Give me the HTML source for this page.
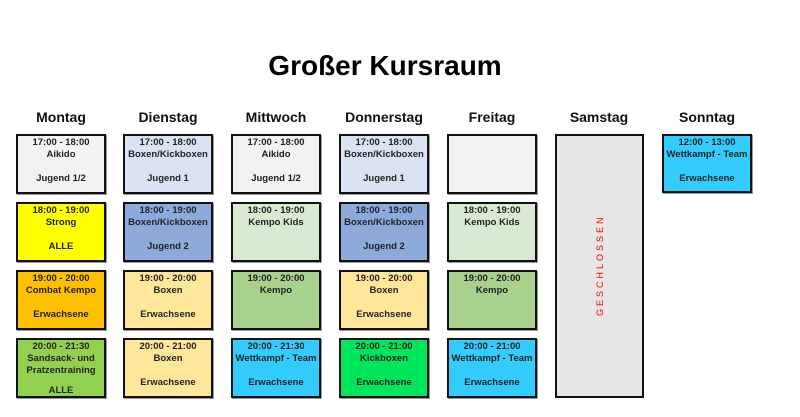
<!DOCTYPE html>
<html><head><meta charset="utf-8"><style>
body{margin:0;width:800px;height:417px;background:#fff;position:relative;font-family:"Liberation Sans",Arial,sans-serif;overflow:hidden}
.t{position:absolute;left:0;width:770px;top:50px;text-align:center;font-size:28px;font-weight:bold;color:#000}
.h{position:absolute;top:109px;width:90px;text-align:center;font-size:14px;font-weight:bold;color:#111}
.b{position:absolute;width:86px;height:55px;border:2px solid #111;box-shadow:1px 1px 0 #999;font-size:9.5px;font-weight:bold;color:#222;text-align:center;line-height:12px;padding-top:1px;box-sizing:content-box}
.b div{height:12px}
.g{position:absolute;left:555px;top:134px;width:85px;height:260px;border:2px solid #111;background:#e6e6e6}
.v{position:absolute;left:590px;top:215px;width:20px;height:100px;color:#f00;font-size:9px;letter-spacing:3px;writing-mode:vertical-rl;transform:rotate(180deg);text-align:center;display:flex;align-items:center;justify-content:center}
</style></head><body>
<div class="t">Großer Kursraum</div>
<div class="h" style="left:16px">Montag</div>
<div class="h" style="left:123px">Dienstag</div>
<div class="h" style="left:231px">Mittwoch</div>
<div class="h" style="left:339px">Donnerstag</div>
<div class="h" style="left:447px">Freitag</div>
<div class="h" style="left:554px">Samstag</div>
<div class="h" style="left:662px">Sonntag</div>

<div class="b" style="left:16px;top:134px;background:#f2f2f2"><div>17:00 - 18:00</div><div>Aikido</div><div></div><div>Jugend 1/2</div></div>
<div class="b" style="left:16px;top:202px;background:#ffff00"><div>18:00 - 19:00</div><div>Strong</div><div></div><div>ALLE</div></div>
<div class="b" style="left:16px;top:270px;background:#ffc000"><div>19:00 - 20:00</div><div>Combat Kempo</div><div></div><div>Erwachsene</div></div>
<div class="b" style="left:16px;top:338px;background:#92d050"><div>20:00 - 21:30</div><div>Sandsack- und</div><div>Pratzentraining</div><div style="margin-top:8px">ALLE</div></div>

<div class="b" style="left:123px;top:134px;background:#dae3f3"><div>17:00 - 18:00</div><div>Boxen/Kickboxen</div><div></div><div>Jugend 1</div></div>
<div class="b" style="left:123px;top:202px;background:#8eaadb"><div>18:00 - 19:00</div><div>Boxen/Kickboxen</div><div></div><div>Jugend 2</div></div>
<div class="b" style="left:123px;top:270px;background:#ffe699"><div>19:00 - 20:00</div><div>Boxen</div><div></div><div>Erwachsene</div></div>
<div class="b" style="left:123px;top:338px;background:#ffe699"><div>20:00 - 21:00</div><div>Boxen</div><div></div><div>Erwachsene</div></div>

<div class="b" style="left:231px;top:134px;background:#f2f2f2"><div>17:00 - 18:00</div><div>Aikido</div><div></div><div>Jugend 1/2</div></div>
<div class="b" style="left:231px;top:202px;background:#d9ead3"><div>18:00 - 19:00</div><div>Kempo Kids</div></div>
<div class="b" style="left:231px;top:270px;background:#a9d18e"><div>19:00 - 20:00</div><div>Kempo</div></div>
<div class="b" style="left:231px;top:338px;background:#33ccff"><div>20:00 - 21:30</div><div>Wettkampf - Team</div><div></div><div>Erwachsene</div></div>

<div class="b" style="left:339px;top:134px;background:#dae3f3"><div>17:00 - 18:00</div><div>Boxen/Kickboxen</div><div></div><div>Jugend 1</div></div>
<div class="b" style="left:339px;top:202px;background:#8eaadb"><div>18:00 - 19:00</div><div>Boxen/Kickboxen</div><div></div><div>Jugend 2</div></div>
<div class="b" style="left:339px;top:270px;background:#ffe699"><div>19:00 - 20:00</div><div>Boxen</div><div></div><div>Erwachsene</div></div>
<div class="b" style="left:339px;top:338px;background:#00e65c"><div>20:00 - 21:00</div><div>Kickboxen</div><div></div><div>Erwachsene</div></div>

<div class="b" style="left:447px;top:134px;background:#f2f2f2"></div>
<div class="b" style="left:447px;top:202px;background:#d9ead3"><div>18:00 - 19:00</div><div>Kempo Kids</div></div>
<div class="b" style="left:447px;top:270px;background:#a9d18e"><div>19:00 - 20:00</div><div>Kempo</div></div>
<div class="b" style="left:447px;top:338px;background:#33ccff"><div>20:00 - 21:00</div><div>Wettkampf - Team</div><div></div><div>Erwachsene</div></div>

<div class="g"></div>
<div class="v">GESCHLOSSEN</div>

<div class="b" style="left:662px;top:134px;height:54px;background:#33ccff"><div>12:00 - 13:00</div><div>Wettkampf - Team</div><div></div><div>Erwachsene</div></div>
</body></html>
